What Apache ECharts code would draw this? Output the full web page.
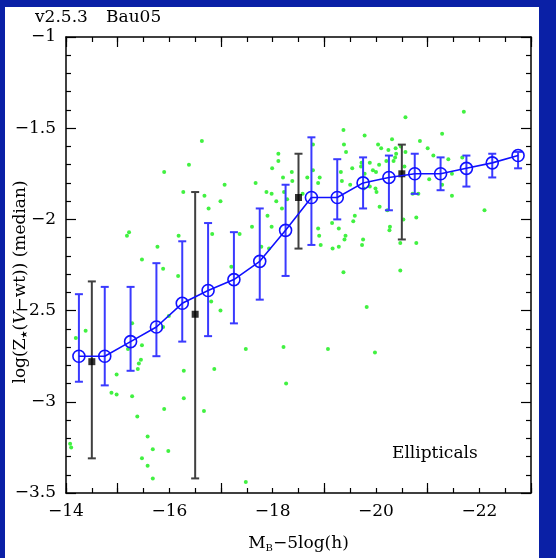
<!DOCTYPE html>
<html><head><meta charset="utf-8">
<script src="https://cdn.jsdelivr.net/npm/echarts@6/dist/echarts.min.js"></script>
<style>
html,body{margin:0;padding:0;background:#0a20a6;width:556px;height:558px;overflow:hidden;}
#bg{position:absolute;left:5px;top:7px;width:534px;height:551px;background:#fff;}
#c{position:absolute;left:0;top:0;width:556px;height:558px;}
</style></head>
<body><div id="bg"></div><div id="c"></div>
<script>
// Blue series: median with error bars
const blueX = [-14.25,-14.75,-15.25,-15.75,-16.25,-16.75,-17.25,-17.75,-18.25,-18.75,-19.25,-19.75,-20.25,-20.75,-21.25,-21.75,-22.25,-22.75];
const blueY = [-2.75,-2.75,-2.67,-2.59,-2.46,-2.39,-2.33,-2.23,-2.06,-1.88,-1.88,-1.80,-1.77,-1.75,-1.75,-1.72,-1.69,-1.65];
const blueHigh = [-2.41,-2.37,-2.37,-2.24,-2.12,-2.02,-2.07,-1.94,-1.81,-1.55,-1.67,-1.66,-1.65,-1.64,-1.66,-1.65,-1.64,-1.63];
const blueLow = [-2.89,-2.91,-2.83,-2.75,-2.67,-2.64,-2.57,-2.44,-2.31,-2.14,-2.00,-1.94,-1.95,-1.86,-1.84,-1.82,-1.77,-1.72];
// Black observational points
const blackX = [-14.5,-16.5,-18.5,-20.5];
const blackY = [-2.78,-2.52,-1.88,-1.75];
const blackHigh = [-2.34,-1.85,-1.64,-1.59];
const blackLow = [-3.31,-3.42,-2.16,-2.11];
// Green individual galaxies
const greenX = [-15.77,-15.47,-15.88,-16.17,-14.38,-14.19,-15.28,-15.99,-15.88,-15.47,-15.20,-15.45,-15.41,-15.39,-14.98,-16.28,-14.88,-14.98,-15.28,-16.28,-15.90,-15.38,-15.58,-14.08,-14.10,-15.68,-15.98,-15.47,-15.58,-15.68,
 -17.78,-17.93,-17.20,-16.81,-16.99,-17.48,-18.21,-19.07,-16.87,-18.26,-16.67,-17.48,
 -19.37,-20.47,-19.82,-19.98,
 -16.63,-16.38,-15.90,-16.27,-16.68,-17.07,-16.99,-16.76,-16.83,-16.18,-15.22,-15.18,-18.11,-18.11,-17.99,-17.67,-18.20,-18.37,-18.38,-17.88,-17.98,-18.22,-18.07,-18.28,-18.18,-17.90,-17.98,-17.60,-17.36,-18.67,
 -19.37,-19.38,-18.78,-19.42,-18.78,-18.91,-18.88,-19.32,-19.34,-18.58,-19.50,-18.88,-19.15,-19.28,-19.41,-19.39,-18.90,-18.93,-19.28,-19.16,
 -20.57,-21.70,-19.78,-21.28,-20.04,-20.31,-20.85,-20.10,-20.24,-20.38,-20.48,-20.57,-21.00,-20.39,-20.37,-21.11,-21.40,-21.67,-19.72,-19.71,-19.88,-20.06,-20.20,-20.34,-19.54,-19.94,-20.00,-20.55,-19.78,-19.76,-19.88,-19.99,-21.03,-21.28,-21.47,-20.01,-20.07,-20.22,-20.71,-20.82,-21.47,-22.10,-19.59,-19.56,-20.27,-20.26,-19.75,-19.73,-20.47,-20.78,-20.53,-20.78];
const greenY = [-2.15,-2.22,-2.27,-2.31,-2.61,-2.65,-2.57,-2.53,-2.59,-2.69,-2.71,-2.77,-2.79,-2.82,-2.85,-2.83,-2.95,-2.96,-2.97,-2.98,-3.04,-3.08,-3.19,-3.23,-3.25,-3.26,-3.27,-3.31,-3.35,-3.42,
 -2.15,-2.16,-2.26,-2.45,-2.50,-2.71,-2.70,-2.71,-2.82,-2.90,-3.05,-3.44,
 -2.29,-2.28,-2.48,-2.73,
 -1.57,-1.70,-1.74,-1.85,-1.87,-1.81,-1.90,-1.94,-2.08,-2.09,-2.07,-2.09,-1.64,-1.68,-1.72,-1.80,-1.77,-1.74,-1.79,-1.85,-1.86,-1.85,-1.90,-1.89,-1.94,-1.98,-2.04,-2.04,-2.08,-1.77,
 -1.51,-1.59,-1.59,-1.63,-1.73,-1.77,-1.80,-1.74,-1.79,-1.86,-1.81,-2.05,-2.02,-2.05,-2.09,-2.11,-2.09,-2.14,-2.15,-2.16,
 -1.44,-1.41,-1.54,-1.53,-1.59,-1.56,-1.57,-1.61,-1.62,-1.61,-1.60,-1.63,-1.61,-1.64,-1.66,-1.65,-1.67,-1.66,-1.69,-1.71,-1.69,-1.70,-1.68,-1.68,-1.72,-1.73,-1.74,-1.71,-1.75,-1.83,-1.82,-1.83,-1.78,-1.81,-1.75,-1.85,-1.93,-1.95,-1.86,-1.86,-1.87,-1.95,-1.98,-2.01,-2.04,-2.06,-2.11,-2.14,-2.13,-2.13,-2.00,-1.99];
const xMin = -23, xMax = -14, yMin = -3.5, yMax = -1;
const titleLeft = 'v2.5.3', titleRight = 'Bau05', panelLabel = 'Ellipticals';

const FONT = 'DejaVu Serif';
const minus = v => (v < 0 ? '\u2212' : '') + String(Math.abs(+v.toFixed(2)));
const chart = echarts.init(document.getElementById('c'), null, {renderer:'canvas'});

function errBar(color, cap, lw) {
  return function (params, api) {
    const x = api.value(0), lo = api.value(1), hi = api.value(2);
    const p1 = api.coord([x, hi]), p2 = api.coord([x, lo]);
    const st = {stroke: color, lineWidth: lw};
    return {type:'group', children:[
      {type:'line', shape:{x1:p1[0], y1:p1[1], x2:p2[0], y2:p2[1]}, style:st},
      {type:'line', shape:{x1:p1[0]-cap, y1:p1[1], x2:p1[0]+cap, y2:p1[1]}, style:st},
      {type:'line', shape:{x1:p2[0]-cap, y1:p2[1], x2:p2[0]+cap, y2:p2[1]}, style:st}
    ]};
  };
}

const xBase = {type:'value', min:xMin, max:xMax, inverse:true, splitLine:{show:false}, gridIndex:0};
const option = {
  animation:false,
  backgroundColor:'transparent',
  grid:{left:66, top:37, width:465, height:465},
  xAxis:[
    Object.assign({}, xBase, {position:'bottom', interval:0.5,
      axisLine:{show:true, lineStyle:{color:'#000', width:1.5}},
      axisTick:{show:true, inside:true, length:5, lineStyle:{color:'#000', width:1.2}},
      axisLabel:{show:true, margin:10, color:'#000', fontFamily:FONT, fontSize:17,
        formatter: v => (Math.abs(v % 2) < 1e-6 ? minus(v) : ''), showMinLabel:true, showMaxLabel:true},
      name:'{a|M}{s|B}{a|\u22125log(h)}', nameLocation:'middle', nameGap:42,
      nameTextStyle:{color:'#000', rich:{a:{fontFamily:FONT, fontSize:17, color:'#000'}, s:{fontFamily:FONT, fontSize:10, color:'#000', verticalAlign:'bottom', padding:[8,0,0,0]}}}
    }),
    Object.assign({}, xBase, {position:'bottom', interval:2, axisLine:{show:false},
      axisTick:{show:true, inside:true, length:10, lineStyle:{color:'#000', width:1.2}}, axisLabel:{show:false}}),
    Object.assign({}, xBase, {position:'top', interval:0.5,
      axisLine:{show:true, lineStyle:{color:'#000', width:1.5}},
      axisTick:{show:true, inside:true, length:5, lineStyle:{color:'#000', width:1.2}}, axisLabel:{show:false}}),
    Object.assign({}, xBase, {position:'top', interval:2, axisLine:{show:false},
      axisTick:{show:true, inside:true, length:10, lineStyle:{color:'#000', width:1.2}}, axisLabel:{show:false}})
  ],
  yAxis:[
    {type:'value', min:yMin, max:yMax, interval:0.5, position:'left', splitLine:{show:false},
      axisLine:{show:true, lineStyle:{color:'#000', width:1.5}},
      axisTick:{show:true, inside:true, length:10, lineStyle:{color:'#000', width:1.2}},
      minorTick:{show:true, splitNumber:5, length:5, lineStyle:{color:'#000', width:1.2}},
      axisLabel:{show:true, margin:10, color:'#000', fontFamily:FONT, fontSize:17, formatter: v => minus(v)}
    },
    {type:'value', min:yMin, max:yMax, interval:0.5, position:'right', splitLine:{show:false},
      axisLine:{show:true, lineStyle:{color:'#000', width:1.5}},
      axisTick:{show:true, inside:true, length:10, lineStyle:{color:'#000', width:1.2}},
      minorTick:{show:true, splitNumber:5, length:5, lineStyle:{color:'#000', width:1.2}},
      axisLabel:{show:false}}
  ],
  graphic:[
    {type:'text', left:35, top:9, style:{text:titleLeft, font:'17px "DejaVu Serif"', fill:'#000'}},
    {type:'text', left:106, top:9, style:{text:titleRight, font:'17px "DejaVu Serif"', fill:'#000'}},
    {type:'text', left:392, top:445, style:{text:panelLabel, font:'17px "DejaVu Serif"', fill:'#000'}},
    {type:'text', x:21, y:282, rotation:Math.PI/2,
      style:{text:'{a|log(Z}{s|\u2605}{a|(}{i|V}{a|\u2212wt)) (median)}', align:'center', verticalAlign:'middle', fill:'#000',
        rich:{a:{fontFamily:FONT, fontSize:17, fill:'#000'}, i:{fontFamily:FONT, fontStyle:'italic', fontSize:17, fill:'#000'},
              s:{fontFamily:'DejaVu Sans', fontSize:9, fill:'#000', padding:[8,0,0,0]}}}}
  ],
  series:[
    {type:'scatter', xAxisIndex:0, yAxisIndex:0, symbol:'circle', symbolSize:4, itemStyle:{color:'#12ee12'},
      data: greenX.map((x,i)=>[x, greenY[i]]), z:1},
    {type:'custom', xAxisIndex:0, yAxisIndex:0, renderItem: errBar('#404040', 4, 2),
      encode:{x:0, y:[1,2]}, data: blackX.map((x,i)=>[x, blackLow[i], blackHigh[i]]), z:2},
    {type:'scatter', xAxisIndex:0, yAxisIndex:0, symbol:'rect', symbolSize:7, itemStyle:{color:'#000'},
      data: blackX.map((x,i)=>[x, blackY[i]]), z:3},
    {type:'custom', xAxisIndex:0, yAxisIndex:0, renderItem: errBar('#3a3aff', 4, 2),
      encode:{x:0, y:[1,2]}, data: blueX.map((x,i)=>[x, blueLow[i], blueHigh[i]]), z:4},
    {type:'line', xAxisIndex:0, yAxisIndex:0, symbol:'circle', symbolSize:12, showSymbol:true,
      lineStyle:{color:'#1010ff', width:1.6},
      itemStyle:{color:'rgba(0,0,0,0)', borderColor:'#1010ff', borderWidth:1.6},
      data: blueX.map((x,i)=>[x, blueY[i]]), z:5}
  ]
};
chart.setOption(option);
</script></body></html>
